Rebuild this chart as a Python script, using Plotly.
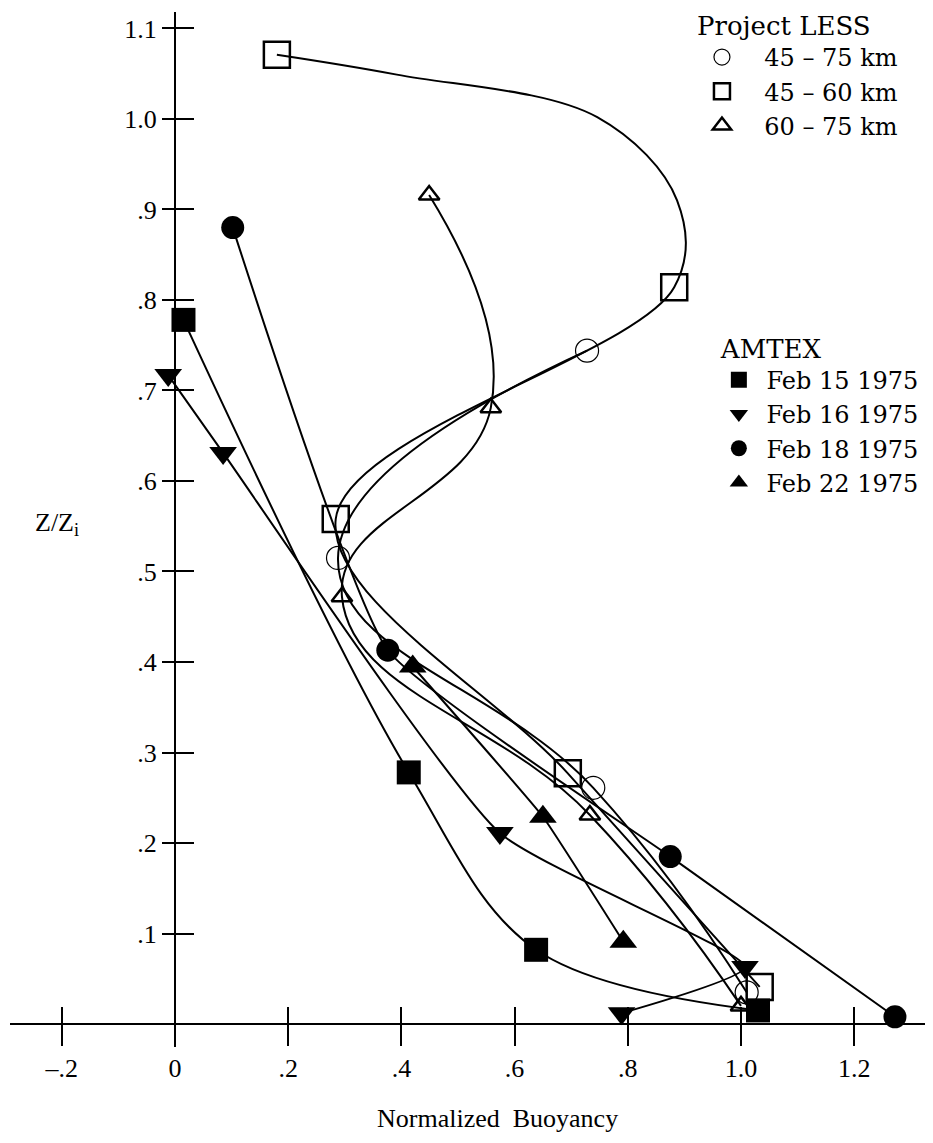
import plotly.graph_objects as go

# ---------------- data ----------------
# Project LESS  (marker positions)
less_45_75_x = [0.728, 0.288, 0.739, 1.010]
less_45_75_y = [0.744, 0.515, 0.261, 0.035]

less_45_60_x = [0.180, 0.882, 0.284, 0.694, 1.033]
less_45_60_y = [1.071, 0.814, 0.558, 0.277, 0.041]

# hand-drawn curve of the 45-60 km profile, read along its path (includes the markers)
less_45_60_curve_x = [0.180, 0.392, 0.746, 0.887, 0.882, 0.284, 0.694, 1.033]
less_45_60_curve_y = [1.071, 1.049, 1.002, 0.910, 0.814, 0.558, 0.277, 0.041]

less_60_75_x = [0.449, 0.558, 0.295, 0.733, 1.000]
less_60_75_y = [0.916, 0.681, 0.472, 0.231, 0.020]

# AMTEX
feb15_x = [0.015, 0.413, 0.638, 1.030]
feb15_y = [0.778, 0.278, 0.082, 0.015]

feb16_x = [-0.012, 0.085, 0.574, 1.007, 0.789]
feb16_y = [0.717, 0.631, 0.211, 0.063, 0.012]

feb18_x = [0.102, 0.376, 0.875, 1.272]
feb18_y = [0.880, 0.413, 0.185, 0.008]

feb22_x = [0.420, 0.650, 0.792]
feb22_y = [0.395, 0.229, 0.091]

x_tickvals = [-0.2, 0, 0.2, 0.4, 0.6, 0.8, 1.0, 1.2]
x_ticktext = ["\u2013.2", "0", ".2", ".4", ".6", ".8", "1.0", "1.2"]
y_tickvals = [0.1, 0.2, 0.3, 0.4, 0.5, 0.6, 0.7, 0.8, 0.9, 1.0, 1.1]
y_ticktext = [".1", ".2", ".3", ".4", ".5", ".6", ".7", ".8", ".9", "1.0", "1.1"]

less_names = ["45 \u2013 75 km", "45 \u2013 60 km", "60 \u2013 75 km"]
amtex_names = ["Feb 15 1975", "Feb 16 1975", "Feb 18 1975", "Feb 22 1975"]

# ---------------- styling ----------------
FONT = "Liberation Serif, Times New Roman, serif"
LFONT = "DejaVu Serif, serif"
NB = "\u00a0"
X_RANGE = [-0.2915, 1.3392]
Y_RANGE = [-0.0254, 1.1182]
x0_pos = (0 - X_RANGE[0]) / (X_RANGE[1] - X_RANGE[0])
y0_pos = (0 - Y_RANGE[0]) / (Y_RANGE[1] - Y_RANGE[0])

fig = go.Figure()

mk_c_open = dict(symbol="circle-open", size=23, line=dict(width=1.2, color="black"))
mk_s_open = dict(symbol="square-open", size=26, line=dict(width=2.5, color="black"))
mk_t_open = dict(symbol="triangle-up-open", size=18, line=dict(width=2.5, color="black"))
mk_feb15 = dict(symbol="square", size=24)
mk_feb16 = dict(symbol="triangle-down", size=24)
mk_feb18 = dict(symbol="circle", size=23)
mk_feb22 = dict(symbol="triangle-up", size=24)

def line_trace(xs, ys, smoothing):
    return go.Scatter(x=xs, y=ys, mode="lines",
                      line=dict(color="black", width=2, shape="spline", smoothing=smoothing),
                      showlegend=False, hoverinfo="skip", cliponaxis=False)

def marker_trace(xs, ys, mk):
    return go.Scatter(x=xs, y=ys, mode="markers", marker=dict(color="black", **mk),
                      showlegend=False, hoverinfo="skip", cliponaxis=False)

# profile curves
fig.add_trace(line_trace(less_45_75_x, less_45_75_y, 1.3))
fig.add_trace(line_trace(less_45_60_curve_x, less_45_60_curve_y, 1.0))
fig.add_trace(line_trace(less_60_75_x, less_60_75_y, 1.3))
fig.add_trace(line_trace(feb15_x, feb15_y, 1.0))
fig.add_trace(line_trace(feb16_x, feb16_y, 0.5))
fig.add_trace(line_trace(feb18_x, feb18_y, 0.4))
fig.add_trace(line_trace(feb22_x, feb22_y, 0.3))

# data markers
fig.add_trace(marker_trace(less_45_75_x, less_45_75_y, mk_c_open))
fig.add_trace(marker_trace(less_45_60_x, less_45_60_y, mk_s_open))
fig.add_trace(marker_trace(less_60_75_x, less_60_75_y, mk_t_open))
fig.add_trace(marker_trace(feb15_x, feb15_y, mk_feb15))
fig.add_trace(marker_trace(feb16_x, feb16_y, mk_feb16))
fig.add_trace(marker_trace(feb18_x, feb18_y, mk_feb18))
fig.add_trace(marker_trace(feb22_x, feb22_y, mk_feb22))

# legend entries (markers only, like the reference)
for name, mk in zip(less_names, [mk_c_open, mk_s_open, mk_t_open]):
    fig.add_trace(go.Scatter(x=[None], y=[None], mode="markers", name=NB * 2 + name,
                             marker=dict(color="black", **mk), legend="legend"))
for name, mk in zip(amtex_names, [mk_feb15, mk_feb16, mk_feb18, mk_feb22]):
    fig.add_trace(go.Scatter(x=[None], y=[None], mode="markers", name=NB + name,
                             marker=dict(color="black", **mk), legend="legend2"))

# invisible trace to instantiate overlay axes (for crossing ticks)
fig.add_trace(go.Scatter(x=[None], y=[None], xaxis="x2", yaxis="y2",
                         showlegend=False, hoverinfo="skip"))

axis_font = dict(family=FONT, size=26, color="black")

# page body has an 8px margin: figure is 8px smaller so it fits the window
fig.update_layout(
    width=925, height=1135,
    margin=dict(l=2, r=0, t=4, b=96, autoexpand=False),
    paper_bgcolor="white", plot_bgcolor="white",
    font=dict(family=FONT, color="black"),
    xaxis=dict(range=X_RANGE, anchor="free", position=y0_pos,
               showline=True, linecolor="black", linewidth=2,
               showgrid=False, zeroline=False,
               ticks="outside", ticklen=21, tickwidth=2, tickcolor="black",
               tickvals=x_tickvals, ticktext=x_ticktext, tickfont=axis_font),
    yaxis=dict(range=Y_RANGE, anchor="free", position=x0_pos,
               showline=True, linecolor="black", linewidth=2,
               showgrid=False, zeroline=False,
               ticks="outside", ticklen=12, tickwidth=2, tickcolor="black",
               tickvals=y_tickvals, ticktext=y_ticktext, tickfont=axis_font),
    xaxis2=dict(range=X_RANGE, overlaying="x", anchor="free", position=y0_pos,
                showline=False, showgrid=False, zeroline=False,
                ticks="inside", ticklen=17, tickwidth=2, tickcolor="black",
                tickvals=x_tickvals, showticklabels=False),
    yaxis2=dict(range=Y_RANGE, overlaying="y", anchor="free", position=x0_pos,
                showline=False, showgrid=False, zeroline=False,
                ticks="inside", ticklen=18, tickwidth=2, tickcolor="black",
                tickvals=y_tickvals, showticklabels=False),
    legend=dict(title=dict(text="Project LESS", font=dict(family=LFONT, size=26)),
                x=0.7421, y=1.0105, xanchor="left", yanchor="top",
                font=dict(family=LFONT, size=24), bgcolor="rgba(0,0,0,0)",
                tracegroupgap=0, itemwidth=44),
    legend2=dict(title=dict(text="AMTEX", font=dict(family=LFONT, size=26)),
                 x=0.768, y=0.6986, xanchor="left", yanchor="top",
                 font=dict(family=LFONT, size=24), bgcolor="rgba(0,0,0,0)",
                 tracegroupgap=0, itemwidth=30),
    annotations=[
        dict(text="Normalized  Buoyancy", xref="paper", yref="paper",
             x=0.528, y=-0.069, showarrow=False, xanchor="center", yanchor="middle",
             font=dict(family=FONT, size=26, color="black")),
        dict(text="Z/Z<sub>i</sub>", xref="paper", yref="paper",
             x=0.025, y=0.505, showarrow=False, xanchor="left", yanchor="middle",
             font=dict(family=FONT, size=26, color="black")),
    ],
)

fig.write_html("out.html")
